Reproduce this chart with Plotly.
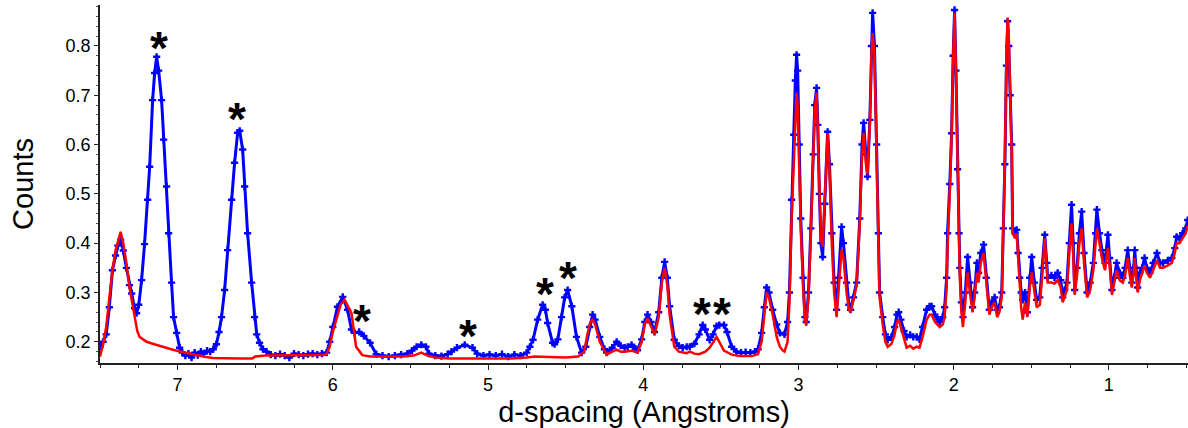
import plotly.graph_objects as go

# ---- observed (blue, with markers) ----
obs_d = [7.50, 7.48, 7.46, 7.44, 7.42, 7.40, 7.385, 7.367, 7.35, 7.33, 7.31, 7.296, 7.277, 7.264, 7.25,
         7.232, 7.213, 7.193, 7.18, 7.161, 7.148, 7.135, 7.122, 7.103, 7.09, 7.071, 7.058, 7.039, 7.026,
         7.006, 6.987, 6.97, 6.95, 6.93, 6.91, 6.89, 6.87, 6.85, 6.83, 6.81, 6.79, 6.77, 6.75, 6.733,
         6.717, 6.697, 6.678, 6.652, 6.633, 6.613, 6.60, 6.581, 6.568, 6.549, 6.523, 6.504, 6.49, 6.472,
         6.45, 6.427, 6.40, 6.37, 6.34, 6.31, 6.28, 6.25, 6.22, 6.19, 6.16, 6.13, 6.10, 6.07, 6.04, 6.02,
         6.00, 5.97, 5.936, 5.905, 5.88, 5.86, 5.83, 5.80, 5.76, 5.72, 5.68, 5.64, 5.60, 5.56, 5.52, 5.49,
         5.46, 5.43, 5.40, 5.38, 5.34, 5.30, 5.26, 5.235, 5.20, 5.15, 5.10, 5.07, 5.03, 4.99, 4.95, 4.91,
         4.87, 4.83, 4.79, 4.751, 4.73, 4.71, 4.68, 4.648, 4.63, 4.616, 4.584, 4.571, 4.55, 4.526, 4.506,
         4.487, 4.46, 4.43, 4.397, 4.37, 4.345, 4.326, 4.31, 4.28, 4.25, 4.236, 4.20, 4.171, 4.145, 4.12,
         4.10, 4.075, 4.05, 4.037, 4.01, 3.99, 3.972, 3.95, 3.927, 3.90, 3.88, 3.862, 3.845, 3.83, 3.80,
         3.77, 3.746, 3.72, 3.70, 3.67, 3.64, 3.617, 3.60, 3.572, 3.55, 3.527, 3.51, 3.48, 3.46, 3.43,
         3.40, 3.37, 3.34, 3.31, 3.28, 3.26, 3.237, 3.22, 3.205, 3.19, 3.166, 3.14, 3.12, 3.09, 3.07,
         3.058, 3.044, 3.03, 3.02, 3.012, 3.005, 2.995, 2.985, 2.97, 2.958, 2.95, 2.935, 2.92, 2.905,
         2.895, 2.883, 2.875, 2.865, 2.855, 2.844, 2.83, 2.812, 2.80, 2.785, 2.77, 2.754, 2.74, 2.722,
         2.71, 2.69, 2.675, 2.664, 2.645, 2.625, 2.605, 2.59, 2.58, 2.565, 2.555, 2.54, 2.53, 2.522, 2.51,
         2.496, 2.485, 2.477, 2.457, 2.44, 2.425, 2.40, 2.38, 2.365, 2.354, 2.34, 2.32, 2.303, 2.28, 2.26,
         2.238, 2.22, 2.20, 2.174, 2.155, 2.142, 2.12, 2.10, 2.09, 2.07, 2.058, 2.045, 2.039, 2.025,
         2.013, 2.003, 1.994, 1.985, 1.975, 1.965, 1.96, 1.95, 1.94, 1.925, 1.91, 1.895, 1.878, 1.865,
         1.85, 1.84, 1.825, 1.807, 1.79, 1.77, 1.755, 1.736, 1.72, 1.705, 1.69, 1.68, 1.67, 1.66, 1.652,
         1.645, 1.636, 1.626, 1.62, 1.605, 1.594, 1.585, 1.575, 1.565, 1.555, 1.54, 1.525, 1.51, 1.497,
         1.48, 1.465, 1.445, 1.43, 1.413, 1.40, 1.394, 1.37, 1.35, 1.33, 1.31, 1.297, 1.285, 1.27, 1.255,
         1.24, 1.23, 1.22, 1.205, 1.19, 1.175, 1.16, 1.14, 1.12, 1.10, 1.085, 1.077, 1.06, 1.045, 1.025,
         1.006, 0.995, 0.98, 0.965, 0.95, 0.93, 0.91, 0.895, 0.878, 0.865, 0.852, 0.84, 0.833, 0.825,
         0.814, 0.80, 0.785, 0.77, 0.755, 0.735, 0.715, 0.69, 0.67, 0.65, 0.62, 0.594, 0.575, 0.563,
         0.545, 0.525, 0.505, 0.492]
obs_counts = [0.190, 0.200, 0.215, 0.270, 0.345, 0.375, 0.395, 0.407, 0.385, 0.350, 0.315, 0.298, 0.268,
              0.258, 0.275, 0.325, 0.398, 0.488, 0.555, 0.690, 0.745, 0.778, 0.750, 0.690, 0.610, 0.515,
              0.420, 0.320, 0.250, 0.218, 0.188, 0.178, 0.172, 0.176, 0.168, 0.178, 0.173, 0.180, 0.176,
              0.182, 0.180, 0.185, 0.195, 0.220, 0.250, 0.305, 0.386, 0.488, 0.563, 0.624, 0.628, 0.590,
              0.515, 0.420, 0.320, 0.250, 0.215, 0.198, 0.185, 0.180, 0.174, 0.172, 0.175, 0.172, 0.168,
              0.176, 0.174, 0.172, 0.175, 0.176, 0.174, 0.176, 0.178, 0.200, 0.230, 0.271, 0.291, 0.265,
              0.225, 0.218, 0.220, 0.212, 0.198, 0.175, 0.172, 0.170, 0.172, 0.174, 0.176, 0.182, 0.190,
              0.194, 0.190, 0.176, 0.172, 0.171, 0.175, 0.180, 0.188, 0.194, 0.188, 0.176, 0.172, 0.174,
              0.172, 0.175, 0.170, 0.174, 0.172, 0.178, 0.190, 0.204, 0.245, 0.275, 0.265, 0.238, 0.198,
              0.195, 0.205, 0.250, 0.290, 0.305, 0.272, 0.210, 0.178, 0.190, 0.230, 0.255, 0.245, 0.210,
              0.185, 0.178, 0.188, 0.200, 0.192, 0.188, 0.190, 0.194, 0.186, 0.183, 0.205, 0.240, 0.255,
              0.240, 0.220, 0.260, 0.330, 0.362, 0.330, 0.272, 0.204, 0.192, 0.188, 0.190, 0.190, 0.196,
              0.215, 0.234, 0.225, 0.204, 0.215, 0.232, 0.234, 0.234, 0.220, 0.190, 0.180, 0.178, 0.179,
              0.178, 0.180, 0.185, 0.218, 0.270, 0.310, 0.300, 0.265, 0.235, 0.218, 0.215, 0.240, 0.300,
              0.488, 0.620, 0.730, 0.782, 0.750, 0.600, 0.450, 0.330, 0.250, 0.240, 0.300, 0.430, 0.580,
              0.680, 0.715, 0.640, 0.500, 0.400, 0.372, 0.480, 0.626, 0.560, 0.420, 0.320, 0.265, 0.330,
              0.433, 0.400, 0.320, 0.275, 0.265, 0.290, 0.320, 0.450, 0.600, 0.644, 0.580, 0.535, 0.650,
              0.800, 0.867, 0.800, 0.600, 0.420, 0.300, 0.250, 0.215, 0.204, 0.210, 0.230, 0.255, 0.260,
              0.245, 0.222, 0.210, 0.214, 0.210, 0.210, 0.205, 0.230, 0.265, 0.272, 0.272, 0.255, 0.245,
              0.240, 0.250, 0.270, 0.330, 0.420, 0.520, 0.623, 0.780, 0.873, 0.750, 0.550, 0.420, 0.350,
              0.280, 0.250, 0.300, 0.372, 0.320, 0.270, 0.300, 0.360, 0.340, 0.380, 0.397, 0.330, 0.265,
              0.280, 0.290, 0.265, 0.270, 0.300, 0.430, 0.560, 0.760, 0.850, 0.800, 0.700, 0.600, 0.430,
              0.420, 0.427, 0.380, 0.330, 0.300, 0.285, 0.300, 0.260, 0.330, 0.372, 0.320, 0.285, 0.290,
              0.350, 0.417, 0.360, 0.330, 0.335, 0.330, 0.340, 0.325, 0.290, 0.305, 0.320, 0.400, 0.478,
              0.400, 0.305, 0.350, 0.420, 0.464, 0.380, 0.300, 0.320, 0.360, 0.420, 0.468, 0.420, 0.386,
              0.360, 0.417, 0.370, 0.305, 0.330, 0.360, 0.340, 0.330, 0.350, 0.386, 0.350, 0.320, 0.350,
              0.386, 0.350, 0.310, 0.340, 0.350, 0.370, 0.350, 0.340, 0.360, 0.380, 0.360, 0.360, 0.365,
              0.370, 0.390, 0.413, 0.410, 0.420, 0.430, 0.447]

# ---- calculated (red line) ----
calc_d = [7.50, 7.48, 7.46, 7.44, 7.42, 7.40, 7.385, 7.367, 7.35, 7.33, 7.31, 7.296, 7.277, 7.26, 7.245,
          7.22, 7.20, 7.15, 7.10, 7.07, 7.03, 6.99, 6.95, 6.90, 6.86, 6.82, 6.77, 6.70, 6.60, 6.52, 6.50,
          6.43, 6.35, 6.25, 6.15, 6.06, 6.04, 6.02, 6.00, 5.976, 5.95, 5.924, 5.90, 5.88, 5.865, 5.85,
          5.81, 5.76, 5.65, 5.55, 5.48, 5.43, 5.39, 5.34, 5.25, 5.15, 5.05, 4.95, 4.85, 4.75, 4.70, 4.60,
          4.50, 4.42, 4.38, 4.36, 4.34, 4.326, 4.31, 4.28, 4.25, 4.236, 4.20, 4.171, 4.145, 4.12, 4.075,
          4.037, 4.01, 3.99, 3.972, 3.95, 3.927, 3.90, 3.88, 3.862, 3.845, 3.83, 3.80, 3.77, 3.746, 3.72,
          3.70, 3.67, 3.64, 3.617, 3.60, 3.572, 3.55, 3.527, 3.51, 3.48, 3.43, 3.38, 3.30, 3.26, 3.237,
          3.22, 3.205, 3.19, 3.166, 3.14, 3.12, 3.10, 3.09, 3.07, 3.058, 3.044, 3.03, 3.02, 3.012, 3.005,
          2.995, 2.985, 2.97, 2.958, 2.95, 2.935, 2.92, 2.905, 2.895, 2.883, 2.875, 2.865, 2.855, 2.844,
          2.83, 2.812, 2.80, 2.785, 2.77, 2.754, 2.74, 2.722, 2.71, 2.69, 2.675, 2.664, 2.645, 2.625,
          2.605, 2.59, 2.58, 2.565, 2.555, 2.54, 2.53, 2.522, 2.51, 2.496, 2.485, 2.477, 2.457, 2.44,
          2.425, 2.40, 2.38, 2.365, 2.354, 2.34, 2.32, 2.303, 2.28, 2.26, 2.238, 2.22, 2.20, 2.174, 2.155,
          2.142, 2.12, 2.10, 2.09, 2.07, 2.058, 2.045, 2.039, 2.025, 2.013, 2.003, 1.994, 1.985, 1.975,
          1.965, 1.96, 1.95, 1.94, 1.925, 1.91, 1.895, 1.878, 1.865, 1.85, 1.84, 1.825, 1.807, 1.79, 1.77,
          1.755, 1.736, 1.72, 1.705, 1.69, 1.68, 1.67, 1.66, 1.652, 1.645, 1.636, 1.626, 1.62, 1.605,
          1.594, 1.585, 1.575, 1.565, 1.555, 1.54, 1.525, 1.51, 1.497, 1.48, 1.465, 1.445, 1.43, 1.413,
          1.40, 1.394, 1.37, 1.35, 1.33, 1.31, 1.297, 1.285, 1.27, 1.255, 1.24, 1.23, 1.22, 1.205, 1.19,
          1.175, 1.16, 1.14, 1.12, 1.10, 1.085, 1.077, 1.06, 1.045, 1.025, 1.006, 0.995, 0.98, 0.965, 0.95,
          0.93, 0.91, 0.895, 0.878, 0.865, 0.852, 0.84, 0.833, 0.825, 0.814, 0.80, 0.785, 0.77, 0.755,
          0.735, 0.715, 0.69, 0.67, 0.65, 0.62, 0.594, 0.575, 0.563, 0.545, 0.525, 0.505, 0.492]
calc_counts = [0.170, 0.195, 0.230, 0.290, 0.345, 0.385, 0.405, 0.423, 0.400, 0.360, 0.310, 0.285, 0.245,
               0.222, 0.210, 0.204, 0.200, 0.195, 0.190, 0.188, 0.184, 0.181, 0.178, 0.174, 0.172, 0.169,
               0.167, 0.166, 0.166, 0.166, 0.170, 0.172, 0.172, 0.172, 0.172, 0.173, 0.175, 0.190, 0.220,
               0.245, 0.275, 0.285, 0.270, 0.258, 0.225, 0.190, 0.173, 0.170, 0.170, 0.170, 0.172, 0.178,
               0.172, 0.168, 0.166, 0.166, 0.166, 0.166, 0.166, 0.168, 0.170, 0.169, 0.168, 0.170, 0.180,
               0.215, 0.240, 0.245, 0.235, 0.200, 0.180, 0.174, 0.180, 0.184, 0.180, 0.180, 0.182, 0.178,
               0.200, 0.235, 0.248, 0.232, 0.214, 0.250, 0.320, 0.350, 0.315, 0.255, 0.190, 0.180, 0.178,
               0.177, 0.180, 0.176, 0.175, 0.177, 0.180, 0.188, 0.200, 0.210, 0.200, 0.182, 0.174, 0.171,
               0.171, 0.175, 0.200, 0.255, 0.300, 0.290, 0.255, 0.210, 0.190, 0.182, 0.180, 0.200, 0.280,
               0.450, 0.580, 0.670, 0.705, 0.680, 0.560, 0.430, 0.310, 0.240, 0.235, 0.290, 0.420, 0.570,
               0.670, 0.705, 0.630, 0.500, 0.410, 0.393, 0.490, 0.623, 0.550, 0.400, 0.300, 0.250, 0.310,
               0.387, 0.370, 0.300, 0.265, 0.260, 0.285, 0.315, 0.440, 0.580, 0.623, 0.560, 0.540, 0.640,
               0.780, 0.826, 0.780, 0.580, 0.400, 0.290, 0.235, 0.200, 0.190, 0.196, 0.215, 0.240, 0.245,
               0.230, 0.205, 0.188, 0.192, 0.186, 0.190, 0.188, 0.210, 0.245, 0.255, 0.255, 0.240, 0.232,
               0.230, 0.235, 0.250, 0.310, 0.393, 0.500, 0.620, 0.780, 0.867, 0.740, 0.540, 0.400, 0.330,
               0.260, 0.230, 0.280, 0.340, 0.300, 0.260, 0.290, 0.340, 0.320, 0.360, 0.380, 0.320, 0.255,
               0.270, 0.280, 0.250, 0.260, 0.290, 0.420, 0.560, 0.780, 0.857, 0.820, 0.700, 0.580, 0.420,
               0.410, 0.420, 0.370, 0.310, 0.270, 0.245, 0.280, 0.250, 0.310, 0.340, 0.300, 0.270, 0.275,
               0.330, 0.410, 0.350, 0.320, 0.320, 0.318, 0.325, 0.310, 0.280, 0.292, 0.305, 0.380, 0.440,
               0.380, 0.295, 0.335, 0.400, 0.430, 0.360, 0.290, 0.305, 0.345, 0.400, 0.430, 0.400, 0.370,
               0.345, 0.390, 0.355, 0.295, 0.320, 0.345, 0.325, 0.320, 0.335, 0.370, 0.335, 0.310, 0.340,
               0.370, 0.335, 0.300, 0.325, 0.340, 0.355, 0.340, 0.330, 0.345, 0.365, 0.350, 0.350, 0.355,
               0.360, 0.380, 0.400, 0.400, 0.410, 0.420, 0.435]

# ---- asterisk marks (impurity peaks) ----
star_d = [7.122, 6.62, 5.814, 5.131, 4.635, 4.487, 3.624, 3.49]
star_counts = [0.808, 0.665, 0.255, 0.224, 0.310, 0.342, 0.269, 0.269]

x_ticks = [7, 6, 5, 4, 3, 2, 1]
y_ticks = [0.2, 0.3, 0.4, 0.5, 0.6, 0.7, 0.8]

FONT = "Liberation Sans, Arial, sans-serif"

fig = go.Figure()
fig.add_trace(go.Scatter(
    x=obs_d, y=obs_counts, mode="lines+markers",
    line=dict(color="#0000ff", width=3),
    marker=dict(color="#0000ff", size=6, symbol="cross"),
    showlegend=False))
fig.add_trace(go.Scatter(
    x=calc_d, y=calc_counts, mode="lines",
    line=dict(color="#ff0000", width=2.5),
    showlegend=False))

for d, c in zip(star_d, star_counts):
    fig.add_annotation(x=d, y=c, text="<b>*</b>", showarrow=False,
                       font=dict(family=FONT, size=46, color="black"),
                       xanchor="center", yanchor="middle", yshift=-6)

fig.update_layout(
    width=1188, height=428,
    margin=dict(l=100, r=0, t=5, b=65),
    paper_bgcolor="white", plot_bgcolor="white",
    font=dict(family=FONT, color="black"),
)
fig.update_xaxes(
    range=[7.5, 0.49], tickvals=x_ticks, ticktext=[str(v) for v in x_ticks],
    showgrid=False, zeroline=False, showline=True, linecolor="#222", linewidth=1.5,
    ticks="outside", ticklen=5, tickcolor="#222", tickfont=dict(size=18),
    minor=dict(dtick=0.25, ticks="outside", ticklen=3, tickcolor="#222"),
    title=dict(text="d-spacing (Angstroms)", font=dict(size=29), standoff=8),
)
fig.update_yaxes(
    range=[0.157, 0.883], tickvals=y_ticks, ticktext=[f"{v:.1f}" for v in y_ticks],
    showgrid=False, zeroline=False, showline=True, linecolor="#222", linewidth=1.5,
    ticks="outside", ticklen=4, tickcolor="#222", tickfont=dict(size=18),
    minor=dict(dtick=0.02, ticks="outside", ticklen=2, tickcolor="#555"),
    title=dict(text="Counts", font=dict(size=29), standoff=23),
)

fig.write_html("out.html")
